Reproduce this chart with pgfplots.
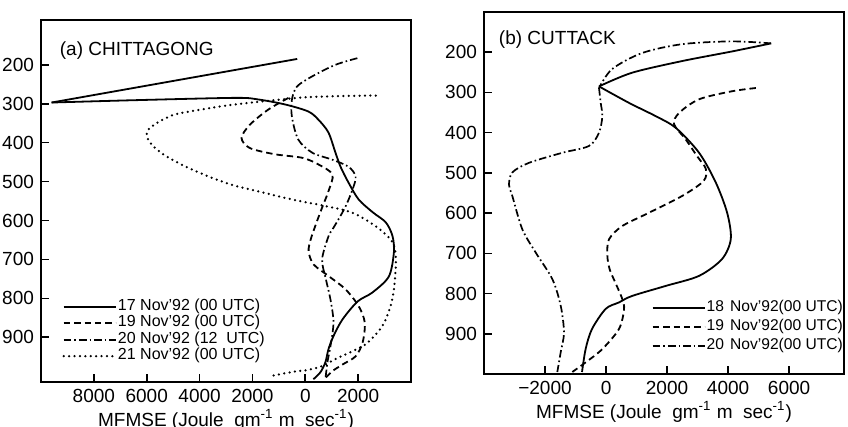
\documentclass[border=0pt]{standalone}
\usepackage{pgfplots}
\pgfplotsset{compat=1.18}
\usepackage{fontspec}
\setmainfont{Liberation Sans}

\tikzset{
  sol/.style={black, line width=0.9pt},
  dsh/.style={black, line width=0.9pt, dash pattern=on 3.2pt off 2pt},
  ddt/.style={black, line width=0.85pt, dash pattern=on 3.8pt off 1.5pt on 0.8pt off 1.5pt},
  dtt/.style={black, line width=1.25pt, line cap=round, dash pattern=on 0pt off 2.7pt},
}
\pgfplotsset{
  panel/.style={
    scale only axis, y dir=reverse,
    scaled x ticks=false, scaled y ticks=false,
    axis line style={line width=0.9pt},
    every tick/.style={line width=0.8pt, black},
    major tick length=4pt,
    xtick pos=bottom, ytick pos=left, tick align=inside,
    ytick={200,300,400,500,600,700,800,900},
    ticklabel style={font=\fontsize{9.5}{10}\selectfont},
    /pgf/number format/assume math mode=true,
    label style={font=\fontsize{9.5}{10}\selectfont},
    xlabel style={yshift=3.5pt},
    xlabel={MFMSE (Joule\ \ gm\textsuperscript{-1} m\ \ sec\textsuperscript{-1})},
    legend cell align=left,
    legend image code/.code={\draw[##1] (0pt,0pt) -- (26pt,0pt);},
  }
}

\begin{document}
\begin{tikzpicture}
\useasboundingbox (-20.5pt,-22.5pt) rectangle (403.5pt,191pt);

% ---------------- (a) CHITTAGONG ----------------
\begin{axis}[panel,
  at={(0pt,0pt)}, anchor=south west,
  width=185pt, height=181pt,
  xmin=-10000, xmax=4000, ymin=85, ymax=1015,
  xtick={-8000,-6000,-4000,-2000,0,2000},
  xticklabels={8000,6000,4000,2000,0,2000},
  legend style={at={(0.057,0.232)}, anchor=north west, draw=none, fill=none,
    inner sep=0pt, font=\fontsize{8}{8}\selectfont,
    nodes={inner sep=0.5pt, text height=5.5pt, text depth=1.75pt}},
]
\addplot[sol, smooth] coordinates {
(-9601,297) (-6477,291) (-2667,285) (-1791,289) (-762,302) (114,320) (495,341)
(876,374) (1143,426) (1334,462) (1638,503) (2019,546) (2553,579) (3048,605)
(3300,640) (3353,682) (3162,744) (2541,785) (1981,808) (1410,854) (1067,897)
(876,931) (762,964) (572,990) (305,1008)};
\addlegendentry{17 Nov'92 (00 UTC)}
\addplot[dsh, smooth] coordinates {
(-636,285) (-1398,315) (-2096,354) (-2412,388) (-2096,414) (-1143,430) (-114,439)
(495,456) (1029,482) (876,525) (636,567) (400,610) (200,650) (126,680) (316,713)
(888,743) (1524,777) (2019,820) (2250,862) (2172,913) (1905,949) (1410,970)
(1029,987) (762,1005)};
\addlegendentry{19 Nov'92 (00 UTC)}
\addplot[ddt, smooth] coordinates {
(1970,183) (1143,200) (255,230) (-316,256) (-507,290) (-507,333) (-267,392)
(267,426) (1029,444) (1638,462) (1905,487) (1791,520) (1524,564) (1257,597)
(1029,623) (876,641) (636,700) (780,751) (953,803) (1067,862) (953,923)
(838,964) (762,1008)};
\addlegendentry{20 Nov'92 (12\ \ UTC)}
\addplot[dtt, smooth] coordinates {
(2667,279) (1000,281) (-267,285) (-2667,302) (-3936,315) (-4953,328) (-5601,349)
(-5982,371) (-5906,397) (-5460,426) (-4698,456) (-3696,486) (-2793,508)
(-1791,525) (-507,546) (762,563) (1779,580) (2667,615) (3303,656) (3429,708)
(3315,795) (3048,854) (2743,887) (2286,918) (1791,936) (1143,956) (648,974)
(114,984) (-381,988) (-1269,999)};
\addlegendentry{21 Nov'92 (00 UTC)}
\addplot[sol, forget plot] coordinates {(-305,185) (-9601,297)};
\node[anchor=base west, font=\fontsize{9.5}{10}\selectfont]
  at (axis description cs:0.032,0.903) {(a) CHITTAGONG};
\end{axis}

% ---------------- (b) CUTTACK ----------------
\begin{axis}[panel,
  at={(221.5pt,4pt)}, anchor=south west,
  width=180pt, height=181pt,
  xmin=-4000, xmax=7800, ymin=100, ymax=1000,
  xtick={-2000,0,2000,4000,6000},
  xticklabels={−2000,0,2000,4000,6000},
  legend style={at={(0.465,0.21)}, anchor=north west, draw=none, fill=none,
    inner sep=0pt, font=\fontsize{7.8}{8}\selectfont,
    nodes={inner sep=0.5pt, text height=6pt, text depth=2.5pt},
    legend image code/.code={\draw[##1] (0pt,0pt) -- (24pt,0pt);}},
]
\addplot[sol, smooth] coordinates {
(-230,285) (754,326) (1630,359) (2286,388) (3050,450) (3598,524) (3969,599)
(4090,664) (3805,714) (3050,756) (1958,781) (853,806) (426,822) (-10,838)
(-459,888) (-666,937) (-787,995)};
\addlegendentry{18\hspace{0.4em}Nov'92(00 UTC)}
\addplot[dsh, smooth] coordinates {
(4910,289) (4133,297) (3050,317) (2394,351) (2230,379) (2614,417) (3000,460)
(3270,490) (3200,520) (2503,557) (1410,599) (535,632) (98,665) (43,705)
(120,740) (318,775) (535,814) (590,840) (426,888) (-121,938) (-666,971)
(-1105,995)};
\addlegendentry{19\hspace{0.4em}Nov'92(00 UTC)}
\addplot[ddt, smooth] coordinates {
(-230,289) (-174,326) (-121,359) (-230,400) (-558,433) (-1433,450) (-2526,475)
(-3073,499) (-3180,530) (-3073,557) (-2745,640) (-2306,698) (-1761,764)
(-1486,830) (-1378,897) (-1486,946) (-1597,995)};
\addlegendentry{20\hspace{0.4em}Nov'92(00 UTC)}
\addplot[sol, smooth, forget plot] coordinates {
(5412,178) (4133,198) (2493,222) (853,251) (-230,285)};
\addplot[ddt, smooth, forget plot] coordinates {
(5412,178) (4133,173) (2493,180) (1181,202) (197,242) (-230,289)};
\node[anchor=base west, font=\fontsize{9.5}{10}\selectfont]
  at (axis description cs:0.022,0.909) {(b) CUTTACK};
\end{axis}
\end{tikzpicture}
\end{document}
